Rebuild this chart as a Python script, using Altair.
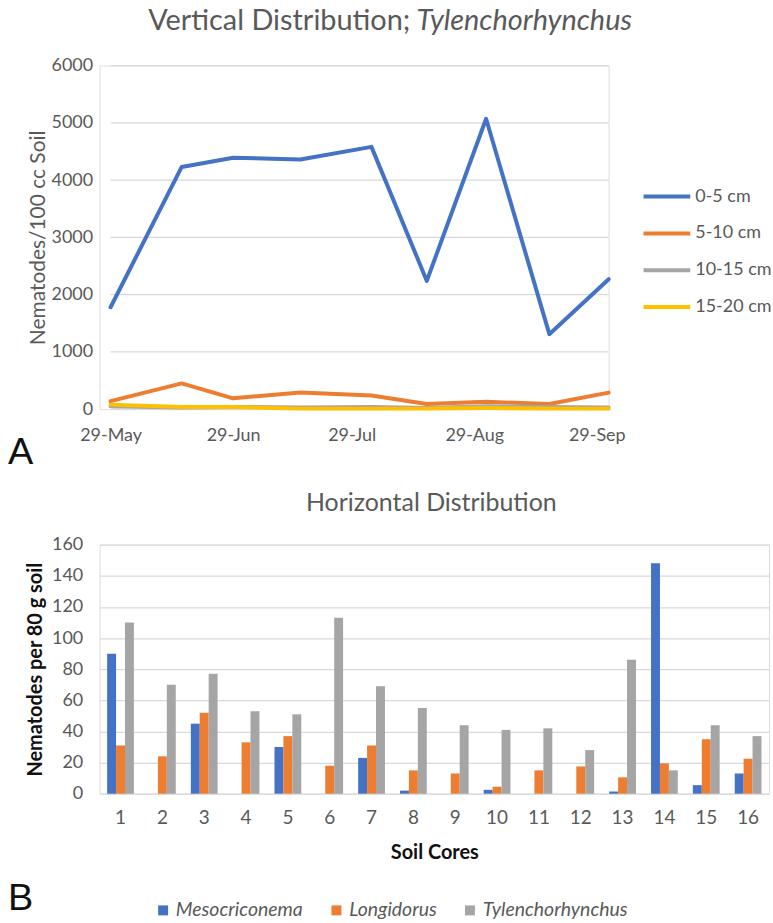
import altair as alt
import pandas as pd

# ---------------- Panel A data ----------------
dates = ["2016-05-29", "2016-06-16", "2016-06-29", "2016-07-16", "2016-08-03",
         "2016-08-17", "2016-09-01", "2016-09-17", "2016-10-02"]
depth_0_5 = [1780, 4230, 4390, 4360, 4580, 2240, 5070, 1310, 2270]
depth_5_10 = [140, 450, 190, 290, 240, 90, 130, 90, 290]
depth_10_15 = [50, 30, 40, 30, 40, 20, 50, 40, 30]
depth_15_20 = [80, 40, 40, 10, 10, 10, 20, 10, 10]
depth_labels = ["0-5 cm", "5-10 cm", "10-15 cm", "15-20 cm"]
depth_colors = ["#4472C4", "#ED7D31", "#A5A5A5", "#FFC000"]
tick_months = [5, 6, 7, 8, 9]
y_ticks_a = [0, 1000, 2000, 3000, 4000, 5000, 6000]

# ---------------- Panel B data ----------------
cores = list(range(1, 17))
mesocriconema = [90, 0, 45, 0, 30, 0, 23, 2, 0, 2.5, 0, 0, 1.5, 148, 5.5, 13]
longidorus = [31, 24, 52, 33, 37, 18, 31, 15, 13, 4.5, 15, 17.5, 10.5, 19.5, 35, 22.5]
tylenchorhynchus = [110, 70, 77, 53, 51, 113, 69, 55, 44, 41, 42, 28, 86, 15, 44, 37]
species = ["Mesocriconema", "Longidorus", "Tylenchorhynchus"]
species_colors = ["#4472C4", "#ED7D31", "#A5A5A5"]
y_ticks_b = [0, 20, 40, 60, 80, 100, 120, 140, 160]

GRID = "#D9D9D9"
LABEL = "#595959"
FONT = "Lato"

# ---------------- Panel A ----------------
series_a = [depth_0_5, depth_5_10, depth_10_15, depth_15_20]
rows = []
for k, (lab, vals) in enumerate(zip(depth_labels, series_a)):
    for d, v in zip(dates, vals):
        rows.append({"date": d, "depth": lab, "value": v, "order": k})
df_a = pd.DataFrame(rows)

dt = lambda m, d: alt.DateTime(year=2016, month=m, date=d, utc=True)

A_W = 511      # panel A view width (shares left edge with panel B)
A_X0 = 11      # plot starts 11 px right of the shared edge

y_axis_a = alt.Axis(values=y_ticks_a, format="d", title="Nematodes/100 cc Soil",
                    grid=False, ticks=False, domain=False,
                    labelFontSize=18, labelColor=LABEL, labelPadding=7,
                    labelFont=FONT, titleFont=FONT, titleFontSize=21,
                    titleFontWeight="normal", titleColor=LABEL, titlePadding=3)
y_scale_a = alt.Scale(domain=[0, 6000], nice=False)

grid_a = alt.Chart(pd.DataFrame({"value": y_ticks_a})).mark_rule(
    color=GRID, strokeWidth=1.3
).encode(y=alt.Y("value:Q", scale=y_scale_a, axis=y_axis_a),
         x=alt.value(A_X0), x2=alt.value(A_W))

lines = alt.Chart(df_a).mark_line(strokeWidth=4, strokeCap="round", strokeJoin="round").encode(
    x=alt.X("date:T",
            scale=alt.Scale(type="utc", nice=False, range=[A_X0, A_W]),
            axis=alt.Axis(values=[dt(m, 29) for m in tick_months], format="%d-%b",
                          title=None, grid=False, ticks=False, domain=False,
                          labelFlush=False,
                          labelFontSize=18, labelColor=LABEL, labelPadding=17,
                          labelFont=FONT)),
    y=alt.Y("value:Q", scale=y_scale_a, axis=y_axis_a),
    color=alt.Color("depth:N", sort=depth_labels,
                    scale=alt.Scale(domain=depth_labels, range=depth_colors),
                    legend=alt.Legend(orient="none", legendX=544, legendY=106,
                                      direction="vertical",
                                      title=None, symbolType="stroke",
                                      symbolStrokeWidth=4, symbolSize=2200,
                                      labelFontSize=18, labelColor=LABEL,
                                      labelFont=FONT, labelOffset=3,
                                      rowPadding=2, padding=0)),
    order=alt.Order("order:Q"),
    detail="depth:N",
)

title_a1 = alt.Chart(pd.DataFrame({"t": ["Vertical Distribution;"]})).mark_text(
    align="right", baseline="middle", fontSize=29, font=FONT, color=LABEL
).encode(text="t:N", x=alt.value(312), y=alt.value(-45))
title_a2 = alt.Chart(pd.DataFrame({"t": ["Tylenchorhynchus"]})).mark_text(
    align="left", baseline="middle", fontSize=29, font=FONT, color=LABEL, fontStyle="italic"
).encode(text="t:N", x=alt.value(318), y=alt.value(-45))
letter_a = alt.Chart(pd.DataFrame({"t": ["A"]})).mark_text(
    align="left", baseline="alphabetic", fontSize=38, font="Liberation Sans", color="#111111"
).encode(text="t:N", x=alt.value(-92), y=alt.value(400))

top = alt.layer(grid_a, lines, title_a1, title_a2, letter_a).properties(width=A_W, height=345)

# ---------------- Panel B ----------------
rows = []
for sp, vals in zip(species, [mesocriconema, longidorus, tylenchorhynchus]):
    for c, v in zip(cores, vals):
        rows.append({"core": c, "species": sp, "value": v})
df_b = pd.DataFrame(rows)

bars = alt.Chart(df_b).mark_bar().encode(
    x=alt.X("core:O", sort=cores,
            scale=alt.Scale(paddingInner=0.36, paddingOuter=0.18),
            axis=alt.Axis(title="Soil Cores", labelAngle=0, grid=False, ticks=False,
                          domain=False, labelFontSize=19, labelColor=LABEL,
                          labelPadding=15, labelFont=FONT, titleFont=FONT,
                          titleFontSize=20, titleFontWeight="bold", titleColor="#111111",
                          titlePadding=15)),
    xOffset=alt.XOffset("species:N", sort=species,
                        scale=alt.Scale(paddingInner=0, paddingOuter=0)),
    y=alt.Y("value:Q",
            scale=alt.Scale(domain=[0, 160], nice=False),
            axis=alt.Axis(values=y_ticks_b, format="d", title="Nematodes per 80 g soil",
                          grid=True, gridColor=GRID, gridWidth=1.3, ticks=False, domain=False,
                          labelFontSize=18, labelColor=LABEL, labelPadding=17,
                          labelFont=FONT, titleFont=FONT, titleFontSize=20,
                          titleFontWeight="bold", titleColor="#111111", titlePadding=6)),
    color=alt.Color("species:N", sort=species,
                    scale=alt.Scale(domain=species, range=species_colors),
                    legend=alt.Legend(orient="none", legendX=54, legendY=357,
                                      direction="horizontal", title=None,
                                      symbolType="square", symbolSize=100,
                                      symbolStrokeWidth=0,
                                      labelFontSize=19.5, labelColor=LABEL,
                                      labelFont=FONT, labelFontStyle="italic",
                                      columnPadding=23, labelOffset=3, padding=0)),
)

title_b = alt.Chart(pd.DataFrame({"t": ["Horizontal Distribution"]})).mark_text(
    align="center", baseline="middle", fontSize=25, font=FONT, color=LABEL
).encode(text="t:N", x=alt.value(333), y=alt.value(-42))
letter_b = alt.Chart(pd.DataFrame({"t": ["B"]})).mark_text(
    align="left", baseline="alphabetic", fontSize=38, font="Liberation Sans", color="#111111"
).encode(text="t:N", x=alt.value(-92), y=alt.value(367))

bottom = alt.layer(bars, title_b, letter_b).properties(width=672, height=250)

chart = alt.vconcat(top, bottom, spacing=17).resolve_scale(
    color="independent"
).resolve_legend(color="independent").properties(
    padding={"left": 7, "top": 4, "right": 0, "bottom": 0}
).configure_view(stroke=None).configure(font=FONT, background="white")

chart.save("out.html", embed_options={"renderer": "svg", "actions": False})
